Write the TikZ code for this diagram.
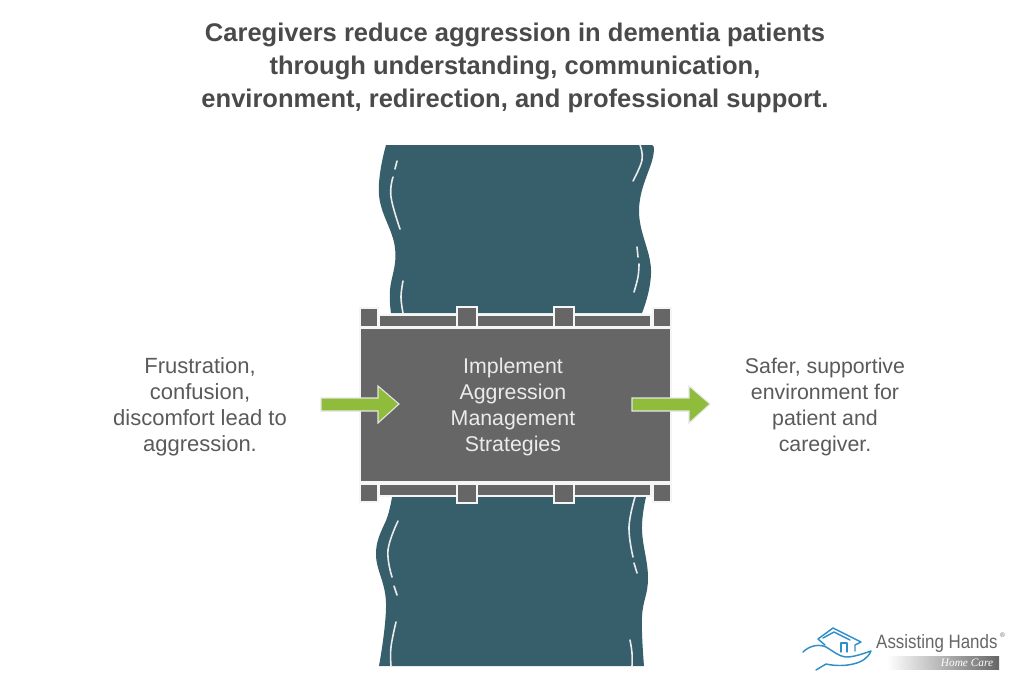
\documentclass[tikz,border=0pt]{standalone}
\usepackage{fontspec}
\setmainfont{Liberation Sans}
\newfontfamily\logoserif{Liberation Serif}
\definecolor{rivercol}{HTML}{365E6B}
\definecolor{bridgecol}{HTML}{666666}
\definecolor{arrowcol}{HTML}{8FBC3A}
\definecolor{titlecol}{HTML}{4A4A4A}
\definecolor{textcol}{HTML}{5A5A5A}
\definecolor{logocol}{HTML}{2E8FC9}
\tikzset{
  captionbox/.style={text=textcol,align=center,font=\fontsize{16}{19.5}\selectfont},
  plank/.style={fill=bridgecol,draw=white!96!black,line width=0.8pt},
  ripple/.style={draw=white!92!black,line width=1.2pt,line cap=round},
  riverbank/.style={smooth,tension=0.7},
  blockarrow/.style={fill=arrowcol,draw=white!90!black,line width=0.8pt},
  logoline/.style={draw=logocol,line width=1.1pt,line join=round,line cap=round}
}
\begin{document}
\begin{tikzpicture}[x=0.75pt,y=-0.75pt]
\useasboundingbox (0,0) rectangle (1024,683);
%title
\node[text=titlecol,align=center,font=\bfseries\fontsize{19.15}{24.7}\selectfont] (title) at (515,68) {Caregivers reduce aggression in dementia patients\\through understanding, communication,\\environment, redirection, and professional support.};
%river above the bridge
\fill[rivercol] plot[riverbank] coordinates {(386,145) (379,195) (395,248) (390,290) (391,313)}
  -- plot[riverbank] coordinates {(642,313) (651,270) (639,210) (653,157) (652,145)} -- cycle;
%river below the bridge
\fill[rivercol] plot[riverbank] coordinates {(392,497) (388,515) (376,553) (386,603) (379,666)}
  -- plot[riverbank] coordinates {(644,666) (642,617) (648,578) (642,530) (646,497)} -- cycle;
%ripples
\draw[ripple] (397,161) -- (395,169);
\draw[ripple] plot[riverbank] coordinates {(393,177) (391,197) (400,229)};
\draw[ripple] plot[riverbank] coordinates {(403,281) (401,297) (403,313)};
\draw[ripple] plot[riverbank] coordinates {(640,145) (642,160) (633,181)};
\draw[ripple] (637,247) -- (638,257);
\draw[ripple] plot[riverbank] coordinates {(639,264) (638,277) (634,292)};
\draw[ripple] plot[riverbank] coordinates {(398,521) (388,550) (392,577)};
\draw[ripple] (394,586) -- (397,595);
\draw[ripple] plot[riverbank] coordinates {(396,622) (391,647) (391,666)};
\draw[ripple] plot[riverbank] coordinates {(635,497) (629,527) (633,557)};
\draw[ripple] (634,563) -- (637,573);
\draw[ripple] plot[riverbank] coordinates {(630,640) (632,653) (632,666)};
%bridge
\draw[plank] (360,328) rectangle (671,482);
\draw[plank] (379,315) rectangle (651,327);
\draw[plank] (379,484) rectangle (651,496);
\foreach \xa/\xb in {360/378,653/671}{
  \draw[plank] (\xa,308) rectangle (\xb,327);
  \draw[plank] (\xa,484) rectangle (\xb,502);
}
\foreach \xa/\xb in {457/477,554/574}{
  \draw[plank] (\xa,307) rectangle (\xb,327);
  \draw[plank] (\xa,484) rectangle (\xb,503);
}
%arrows
\foreach \xo in {321,632}{
  \draw[blockarrow] (\xo,398) -- ++(57,0) -- ++(0,-12) -- ++(21,18) -- ++(-21,19) -- ++(0,-12) -- ++(-57,0) -- cycle;
}
%texts
\node[captionbox,text=white!92!black] (strategy) at (513,406.5) {Implement\\Aggression\\Management\\Strategies};
\node[captionbox,font=\fontsize{16.5}{19.5}\selectfont] (problem) at (200,406.5) {Frustration,\\confusion,\\discomfort lead to\\aggression.};
\node[captionbox] (outcome) at (825,406.5) {Safer, supportive\\environment for\\patient and\\caregiver.};
%logo
\draw[logoline] (825,645) -- (818,639) -- (833,628) -- (861,642) -- (855,645) -- (855,651);
\draw[logoline] (823,638) -- (834,632) -- (850,640);
\draw[logoline] (841,652) -- (841,643) -- (847,643) -- (847,652);
\draw[logoline] (803,652) .. controls (810,645) and (820,644) .. (826,647) .. controls (833,651) and (838,656) .. (846,657) .. controls (854,657) and (862,654) .. (871,651) .. controls (868,658) and (862,662) .. (853,664) .. controls (845,666) and (835,666) .. (826,664) -- (816,670);
\shade[left color=white,right color=bridgecol] (887,656) rectangle (999,669);
\node[text=bridgecol,font=\fontsize{14.5}{17}\selectfont,inner sep=0pt,anchor=west,xscale=0.875] (brand) at (876,643) {Assisting Hands};
\node[text=bridgecol,font=\fontsize{5}{6}\selectfont,inner sep=0pt] (regmark) at (1002.5,635) {®};
\node[text=white,font=\logoserif\itshape\fontsize{8.5}{10}\selectfont,inner sep=0pt] (homecare) at (967,663) {Home Care};
\end{tikzpicture}
\end{document}
